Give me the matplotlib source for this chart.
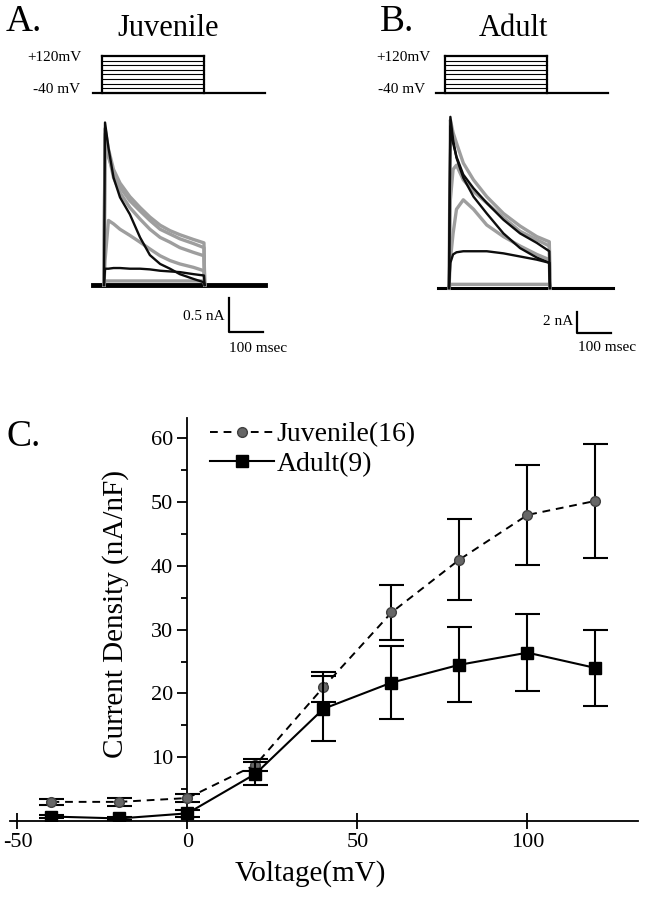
import numpy as np
import matplotlib.pyplot as plt

plt.rcParams['font.family'] = ['Liberation Serif', 'DejaVu Serif']
plt.rcParams['axes.unicode_minus'] = False

# ---- panel C: current density vs voltage ----
voltage = [-40, -20, 0, 20, 40, 60, 80, 100, 120]
juv_mean = [3.0, 3.0, 3.6, 8.8, 21.0, 32.7, 41.0, 48.0, 50.2]
juv_err = [0.5, 0.6, 0.6, 1.0, 2.4, 4.3, 6.3, 7.8, 8.9]
adult_mean = [0.7, 0.4, 1.2, 7.4, 17.6, 21.7, 24.5, 26.4, 24.0]
adult_err = [0.3, 0.3, 0.5, 1.8, 5.1, 5.7, 5.9, 6.0, 6.0]

# ---- voltage protocol (mV), pulse 300 ms ----
step_levels = [-40, -20, 0, 20, 40, 60, 80, 100, 120]
pulse_len = 300

# ---- panel A: juvenile traces (nA) ----
tA = [0, 3, 13, 28, 47, 76, 106, 135, 165, 194, 223, 263, 294]
juv_black = [0, 2.39, 2.02, 1.58, 1.29, 1.04, 0.70, 0.44, 0.31, 0.24, 0.16, 0.09, 0.04]
juv_grey1 = [0, 2.17, 1.88, 1.66, 1.44, 1.24, 1.09, 0.95, 0.82, 0.75, 0.68, 0.61, 0.55]
juv_grey2 = [0, 2.22, 1.93, 1.58, 1.36, 1.14, 0.97, 0.82, 0.70, 0.63, 0.55, 0.48, 0.43]
juv_grey4 = [0, 2.30, 2.00, 1.70, 1.50, 1.30, 1.14, 1.00, 0.88, 0.80, 0.74, 0.67, 0.62]
juv_grey3 = [0, 0.36, 0.95, 0.90, 0.82, 0.73, 0.63, 0.53, 0.43, 0.36, 0.31, 0.26, 0.21]
juv_plateau = [0, 0.24, 0.24, 0.25, 0.25, 0.24, 0.24, 0.23, 0.21, 0.20, 0.19, 0.16, 0.14]
juv_low = [0, 0.06, 0.06, 0.06, 0.06, 0.06, 0.06, 0.06, 0.06, 0.06, 0.06, 0.06, 0.06]

# ---- panel B: adult traces (nA) ----
tB = [0, 4, 12, 22, 42, 72, 111, 160, 209, 258, 295]
ad_black1 = [0, 16.3, 14.1, 12.4, 10.5, 8.7, 7.1, 5.2, 3.8, 2.9, 2.4]
ad_grey1 = [0, 16.0, 14.8, 13.8, 11.9, 10.3, 8.7, 7.1, 5.9, 4.9, 4.4]
ad_black2 = [0, 15.4, 13.8, 12.5, 10.8, 9.5, 8.1, 6.5, 5.2, 4.3, 3.5]
ad_grey2 = [0, 8.4, 11.3, 11.7, 10.3, 9.2, 8.1, 6.7, 5.4, 4.6, 4.0]
ad_grey3 = [0, 2.7, 5.2, 7.5, 8.4, 7.5, 6.0, 4.9, 4.0, 3.2, 2.7]
ad_plateau = [0, 2.4, 3.2, 3.4, 3.5, 3.5, 3.5, 3.3, 3.0, 2.7, 2.4]
ad_low = [0, 0.35, 0.35, 0.35, 0.35, 0.35, 0.35, 0.35, 0.35, 0.35, 0.35]

W, H = 645, 900
fig = plt.figure(figsize=(W / 100, H / 100), dpi=100)


def px_axes(x0, y0, x1, y1):
    ax = fig.add_axes([x0 / W, 1 - y1 / H, (x1 - x0) / W, (y1 - y0) / H])
    ax.set_axis_off()
    return ax


def protocol(ax, lab_top, lab_bot):
    ax.set_xlim(-50, 538.2)
    ax.set_ylim(-60, 145)
    for v in step_levels:
        ax.plot([0, pulse_len], [v, v], color="black", lw=0.8 if v < 120 else 1.6)
    ax.plot([0, 0], [-40, 120], color="black", lw=1.6)
    ax.plot([pulse_len, pulse_len], [-40, 120], color="black", lw=1.6)
    ax.plot([-26.5, 480], [-40, -40], color="black", lw=1.6)
    ax.text(lab_top, 112, "+120mV", ha="right", va="center", fontsize=11)
    ax.text(lab_bot, -25, "-40 mV", ha="right", va="center", fontsize=11)


def traces(ax, t, greys, blacks, t_end, lw_base):
    ax.plot([-32, t_end], [0, 0], color="black", lw=lw_base, zorder=1)
    for y in greys:
        ax.plot(t + [t[-1] + 2], y + [0], color="0.62", lw=2.4, zorder=2)
    for y in blacks:
        ax.plot(t + [t[-1] + 2], y + [0], color="0.05", lw=1.7, zorder=3)


# panel A
axpA = px_axes(85, 50.2, 285, 97.6)
protocol(axpA, -59, -65)
axA = px_axes(90, 110, 280, 345)
axA.set_xlim(-41.2, 517.6)
axA.set_ylim(-0.882, 2.574)
traces(axA, tA, [juv_grey1, juv_grey2, juv_grey4, juv_grey3, juv_low],
       [juv_black, juv_plateau], 473, 3.5)
axA.plot([367.6, 367.6, 467.6], [-0.191, -0.691, -0.691], color="black", lw=1.6)
axA.text(356, -0.47, "0.5 nA", ha="right", va="center", fontsize=11)
axA.text(369, -0.93, "100 msec", ha="left", va="center", fontsize=11)

# panel B
axpB = px_axes(428, 50.2, 628, 97.6)
protocol(axpB, -44, -59)
axB = px_axes(435, 105, 625, 345)
axB.set_xlim(-41.2, 517.6)
axB.set_ylim(-5.43, 17.43)
traces(axB, tB, [ad_grey1, ad_grey2, ad_grey3, ad_low],
       [ad_black1, ad_black2, ad_plateau], 482, 2.2)
axB.plot([376.5, 376.5, 476.5], [-2.286, -4.286, -4.286], color="black", lw=1.6)
axB.text(365, -3.2, "2 nA", ha="right", va="center", fontsize=11)
axB.text(378, -5.71, "100 msec", ha="left", va="center", fontsize=11)

fig.text(6 / W, 1 - 22 / H, "A.", fontsize=27, ha="left", va="center")
fig.text(168 / W, 1 - 28 / H, "Juvenile", fontsize=22, ha="center", va="center")
fig.text(380 / W, 1 - 22 / H, "B.", fontsize=27, ha="left", va="center")
fig.text(513 / W, 1 - 28 / H, "Adult", fontsize=22, ha="center", va="center")
fig.text(7 / W, 1 - 437 / H, "C.", fontsize=27, ha="left", va="center")

# panel C
ax = fig.add_axes([10 / W, 1 - 821 / H, 628 / W, 403 / H])
ax.set_xlim(-52.2, 132.5)
ax.set_ylim(0, 63.2)
for s in ["top", "right"]:
    ax.spines[s].set_visible(False)
ax.spines["left"].set_position(("data", 0))
ax.spines["left"].set_linewidth(1.3)
ax.spines["bottom"].set_linewidth(1.3)

ax.errorbar(voltage, juv_mean, yerr=juv_err, color="black", ls=(0, (4, 3)), lw=1.4,
            marker="o", ms=7, mfc="0.4", mec="0.25", capsize=9, capthick=1.5,
            elinewidth=1.5, label="Juvenile(16)", zorder=3)
ax.errorbar(voltage, adult_mean, yerr=adult_err, color="black", ls="-", lw=1.5,
            marker="s", ms=9, mfc="black", mec="black", capsize=9, capthick=1.5,
            elinewidth=1.5, label="Adult(9)", zorder=4)

ax.set_xticks([-50, 0, 50, 100])
ax.set_yticks([10, 20, 30, 40, 50, 60])
ax.set_yticks([5, 15, 25, 35, 45, 55], minor=True)
ax.tick_params(axis="x", direction="inout", length=11, width=1.3, labelsize=16, pad=3)
ax.tick_params(axis="y", which="major", direction="out", length=7, width=1.3, labelsize=16)
ax.tick_params(axis="y", which="minor", direction="out", length=4, width=1.3)

handles, labels = ax.get_legend_handles_labels()
handles = [h[0] for h in handles]
ax.legend(handles, labels, loc="upper left", bbox_to_anchor=(210 / W, 1 - 422 / H),
          bbox_transform=fig.transFigure, frameon=False, fontsize=20,
          handlelength=2.3, handletextpad=0.1, borderpad=0, borderaxespad=0,
          labelspacing=0.15)

fig.text(116 / W, 1 - 614 / H, "Current Density (nA/nF)", rotation=90,
         ha="center", va="center", fontsize=21)
fig.text(310 / W, 1 - 874 / H, "Voltage(mV)", ha="center", va="center", fontsize=21)

fig.savefig("out.png", dpi=100)
